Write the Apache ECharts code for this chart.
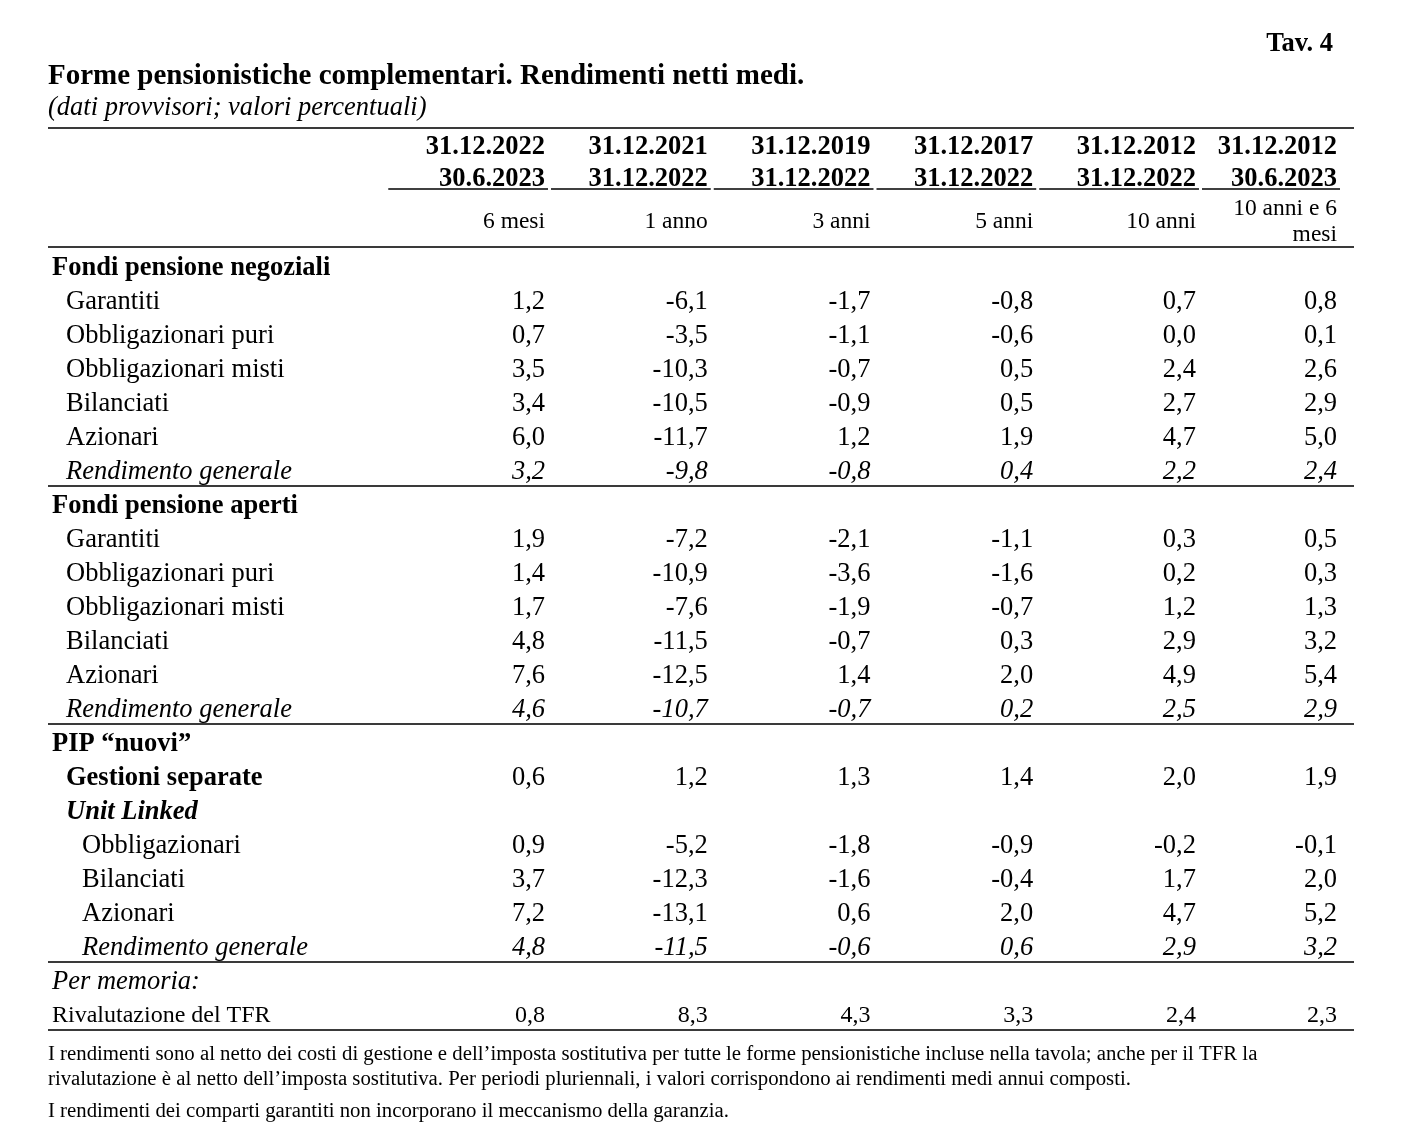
<!DOCTYPE html>
<html><head><meta charset="utf-8">
<script src="https://cdn.jsdelivr.net/npm/echarts@6/dist/echarts.min.js"></script>
<style>html,body{margin:0;padding:0;background:#fff}#chart{width:1404px;height:1140px}</style>
</head><body><div id="chart"></div>
<script>
// ---------- DATA ----------
const periodStart = ['31.12.2022', '31.12.2021', '31.12.2019', '31.12.2017', '31.12.2012', '31.12.2012'];
const periodEnd = ['30.6.2023', '31.12.2022', '31.12.2022', '31.12.2022', '31.12.2022', '30.6.2023'];
const periodLength = ['6 mesi', '1 anno', '3 anni', '5 anni', '10 anni', '10 anni e 6\nmesi'];

const rowLabels = [
  'Fondi pensione negoziali', 'Garantiti', 'Obbligazionari puri', 'Obbligazionari misti', 'Bilanciati', 'Azionari', 'Rendimento generale',
  'Fondi pensione aperti', 'Garantiti', 'Obbligazionari puri', 'Obbligazionari misti', 'Bilanciati', 'Azionari', 'Rendimento generale',
  'PIP “nuovi”', 'Gestioni separate', 'Unit Linked', 'Obbligazionari', 'Bilanciati', 'Azionari', 'Rendimento generale',
  'Per memoria:', 'Rivalutazione del TFR'
];
const rowKinds = [
  'section', 'item', 'item', 'item', 'item', 'item', 'total',
  'section', 'item', 'item', 'item', 'item', 'item', 'total',
  'section', 'sub', 'subHead', 'subItem', 'subItem', 'subItem', 'subTotal',
  'memo', 'memoItem'
];

const ret6m   = [null, 1.2, 0.7, 3.5, 3.4, 6.0, 3.2, null, 1.9, 1.4, 1.7, 4.8, 7.6, 4.6, null, 0.6, null, 0.9, 3.7, 7.2, 4.8, null, 0.8];
const ret1y   = [null, -6.1, -3.5, -10.3, -10.5, -11.7, -9.8, null, -7.2, -10.9, -7.6, -11.5, -12.5, -10.7, null, 1.2, null, -5.2, -12.3, -13.1, -11.5, null, 8.3];
const ret3y   = [null, -1.7, -1.1, -0.7, -0.9, 1.2, -0.8, null, -2.1, -3.6, -1.9, -0.7, 1.4, -0.7, null, 1.3, null, -1.8, -1.6, 0.6, -0.6, null, 4.3];
const ret5y   = [null, -0.8, -0.6, 0.5, 0.5, 1.9, 0.4, null, -1.1, -1.6, -0.7, 0.3, 2.0, 0.2, null, 1.4, null, -0.9, -0.4, 2.0, 0.6, null, 3.3];
const ret10y  = [null, 0.7, 0.0, 2.4, 2.7, 4.7, 2.2, null, 0.3, 0.2, 1.2, 2.9, 4.9, 2.5, null, 2.0, null, -0.2, 1.7, 4.7, 2.9, null, 2.4];
const ret10y6m = [null, 0.8, 0.1, 2.6, 2.9, 5.0, 2.4, null, 0.5, 0.3, 1.3, 3.2, 5.4, 2.9, null, 1.9, null, -0.1, 2.0, 5.2, 3.2, null, 2.3];
const columns = [ret6m, ret1y, ret3y, ret5y, ret10y, ret10y6m];

const titleText = 'Forme pensionistiche complementari. Rendimenti netti medi.';
const subtitleText = '(dati provvisori; valori percentuali)';
const tableTag = 'Tav. 4';
const notes = [
  'I rendimenti sono al netto dei costi di gestione e dell’imposta sostitutiva per tutte le forme pensionistiche incluse nella tavola; anche per il TFR la\nrivalutazione è al netto dell’imposta sostitutiva. Per periodi pluriennali, i valori corrispondono ai rendimenti medi annui composti.',
  'I rendimenti dei comparti garantiti non incorporano il meccanismo della garanzia.'
];

// ---------- STYLE ----------
const FF = '"Liberation Serif","Times New Roman",serif';
function font(size, weight, style) { return (style || 'normal') + ' ' + (weight || 'normal') + ' ' + size + 'px ' + FF; }
const BODY = 26.5;
const TSHIFT = 3; // optical baseline correction for serif text
const kindStyle = {
  section:  { indent: 4,  weight: 'bold',   style: 'normal', size: BODY },
  item:     { indent: 18, weight: 'normal', style: 'normal', size: BODY },
  total:    { indent: 18, weight: 'normal', style: 'italic', size: BODY, rule: true },
  sub:      { indent: 18, weight: 'bold',   style: 'normal', size: BODY },
  subHead:  { indent: 18, weight: 'bold',   style: 'italic', size: BODY },
  subItem:  { indent: 34, weight: 'normal', style: 'normal', size: BODY },
  subTotal: { indent: 34, weight: 'normal', style: 'italic', size: BODY, rule: true },
  memo:     { indent: 4,  weight: 'normal', style: 'italic', size: BODY },
  memoItem: { indent: 4,  weight: 'normal', style: 'normal', size: 24, rule: true }
};
const RULE = { stroke: '#3a3a3a', lineWidth: 2 };
const LAST_COL_PAD = 17;

function fmt(v) { return v.toFixed(1).replace('.', ','); }
function colRight(api, params, c) {
  const cs = params.coordSys;
  return Math.min(api.coord([c, 0])[0], cs.x + cs.width - LAST_COL_PAD);
}

const chart = echarts.init(document.getElementById('chart'), null, { renderer: 'canvas' });

const series = [];

// Row labels + horizontal rules
series.push({
  type: 'custom',
  name: 'labels',
  silent: true,
  data: rowLabels.map((l, i) => [0, i]),
  renderItem: function (params, api) {
    const i = params.dataIndex;
    const cs = params.coordSys;
    const st = kindStyle[rowKinds[i]];
    const y = api.coord([0, i])[1];
    const band = api.size([0, 1])[1];
    const children = [{
      type: 'text', x: cs.x + st.indent, y: y + TSHIFT,
      style: { text: rowLabels[i], fill: '#000', font: font(st.size, st.weight, st.style), align: 'left', verticalAlign: 'middle' }
    }];
    if (st.rule) {
      const ly = Math.round(y + band / 2);
      children.push({ type: 'line', shape: { x1: cs.x, y1: ly, x2: cs.x + cs.width, y2: ly }, style: RULE });
    }
    return { type: 'group', children: children };
  }
});

// Value columns
columns.forEach(function (arr, c) {
  series.push({
    type: 'custom',
    name: periodLength[c],
    silent: true,
    data: arr.map((v, i) => v == null ? null : [c + 1, i, v]).filter(d => d),
    renderItem: function (params, api) {
      const rowIdx = api.value(1);
      const st = kindStyle[rowKinds[rowIdx]];
      const x = colRight(api, params, api.value(0));
      const y = api.coord([api.value(0), rowIdx])[1];
      const italic = (rowKinds[rowIdx] === 'total' || rowKinds[rowIdx] === 'subTotal') ? 'italic' : 'normal';
      return {
        type: 'text', x: x, y: y + TSHIFT,
        style: { text: fmt(api.value(2)), fill: '#000', font: font(st.size, 'normal', italic), align: 'right', verticalAlign: 'middle' }
      };
    }
  });
});

// Header
series.push({
  type: 'custom',
  name: 'header',
  silent: true,
  data: periodStart.map((s, c) => [c + 1, 0]),
  renderItem: function (params, api) {
    const c = params.dataIndex;
    const cs = params.coordSys;
    const top = cs.y;
    const x = colRight(api, params, c + 1);
    const xPrev = c === 0 ? api.coord([0, 0])[0] : colRight(api, params, c);
    const children = [
      { type: 'text', x: x, y: top - 104 + TSHIFT, style: { text: periodStart[c], fill: '#000', font: font(BODY, 'bold'), align: 'right', verticalAlign: 'middle' } },
      { type: 'text', x: x, y: top - 72 + TSHIFT, style: { text: periodEnd[c], fill: '#000', font: font(BODY, 'bold'), align: 'right', verticalAlign: 'middle' } },
      { type: 'line', shape: { x1: xPrev + 6, y1: top - 59, x2: x + 3, y2: top - 59 }, style: { stroke: '#000', lineWidth: 1.5 } },
      { type: 'text', x: x, y: top - 29 + TSHIFT, style: { text: periodLength[c], fill: '#000', font: font(23.5), align: 'right', verticalAlign: 'middle', lineHeight: 26 } }
    ];
    if (c === 0) {
      children.push({ type: 'line', shape: { x1: cs.x, y1: top - 120, x2: cs.x + cs.width, y2: top - 120 }, style: RULE });
      children.push({ type: 'line', shape: { x1: cs.x, y1: top - 1, x2: cs.x + cs.width, y2: top - 1 }, style: RULE });
    }
    return { type: 'group', children: children };
  }
});

chart.setOption({
  animation: false,
  backgroundColor: '#fff',
  grid: { left: 48, right: 50, top: 248, bottom: 110 },
  xAxis: { type: 'value', min: -2.054, max: 5.971, show: false },
  yAxis: { type: 'category', data: rowLabels.map((l, i) => String(i)), inverse: true, show: false, boundaryGap: true },
  graphic: [
    { type: 'text', x: 1333, y: 44, style: { text: tableTag, fill: '#000', font: font(26.5, 'bold'), align: 'right', verticalAlign: 'middle' } },
    { type: 'text', x: 48, y: 77, style: { text: titleText, fill: '#000', font: font(29, 'bold'), align: 'left', verticalAlign: 'middle' } },
    { type: 'text', x: 48, y: 108, style: { text: subtitleText, fill: '#000', font: font(26.5, 'normal', 'italic'), align: 'left', verticalAlign: 'middle' } },
    { type: 'text', x: 48, y: 1042, style: { text: notes[0], fill: '#000', font: font(20.8), align: 'left', verticalAlign: 'top', lineHeight: 25 } },
    { type: 'text', x: 48, y: 1099, style: { text: notes[1], fill: '#000', font: font(20.8), align: 'left', verticalAlign: 'top', lineHeight: 25 } }
  ],
  series: series
});
</script>
</body></html>
